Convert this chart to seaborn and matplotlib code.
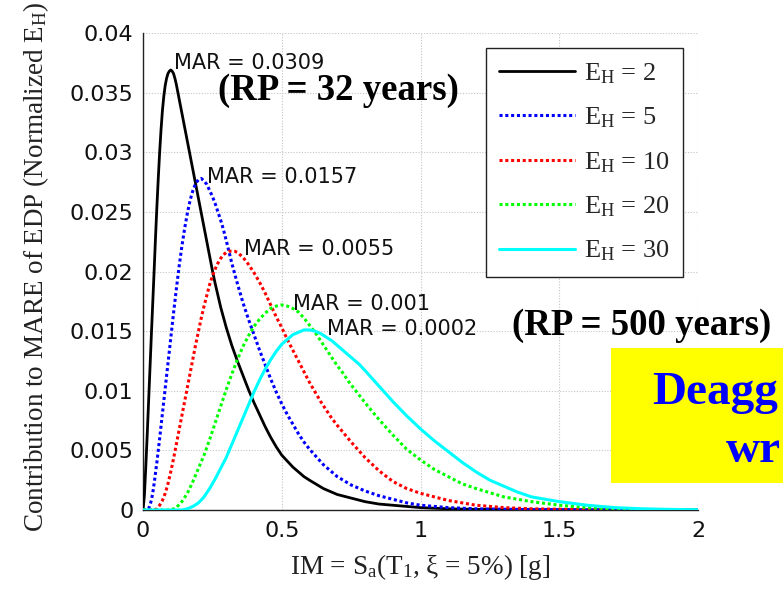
import matplotlib
matplotlib.use("Agg")
import matplotlib.pyplot as plt
import seaborn as sns
import pandas as pd
from matplotlib.patches import Rectangle

# IM values (g) and normalized contributions to MARE for each hazard exposure E_H
im_eh2 = [0, 0.005, 0.01, 0.015, 0.02, 0.025, 0.03, 0.035, 0.04, 0.045, 0.05, 0.055, 0.06,
          0.065, 0.07, 0.075, 0.08, 0.085, 0.09, 0.095, 0.10, 0.105, 0.11, 0.115, 0.12, 0.13,
          0.14, 0.15, 0.16, 0.17, 0.18, 0.19, 0.20, 0.21, 0.22, 0.23, 0.24, 0.25, 0.26, 0.28,
          0.30, 0.32, 0.34, 0.36, 0.38, 0.40, 0.42, 0.44, 0.46, 0.48, 0.50, 0.52, 0.54, 0.56,
          0.58, 0.60, 0.65, 0.70, 0.75, 0.80, 0.85, 0.90, 1.00, 1.10, 1.20, 1.40, 1.60, 2.00]
contrib_eh2 = [0, 0.0012, 0.0036, 0.0062, 0.0090, 0.0118, 0.0146, 0.0173, 0.0200, 0.0228,
               0.0254, 0.0278, 0.0300, 0.0319, 0.0335, 0.0347, 0.0356, 0.0362, 0.0366, 0.0368,
               0.0369, 0.0368, 0.0366, 0.0362, 0.0357, 0.0345, 0.0333, 0.0321, 0.0309, 0.0297,
               0.0285, 0.0273, 0.0261, 0.0249, 0.0237, 0.0225, 0.0213, 0.0201, 0.0190, 0.0170,
               0.0153, 0.0138, 0.0125, 0.0113, 0.0101, 0.0090, 0.0080, 0.0070, 0.0061, 0.0053,
               0.0046, 0.0041, 0.0036, 0.0032, 0.0028, 0.0025, 0.0018, 0.0013, 0.0010, 0.0007,
               0.0005, 0.0004, 0.0002, 0.0001, 0.00005, 0.00002, 0.00001, 0]

im_eh5 = [0, 0.015, 0.02, 0.025, 0.03, 0.035, 0.04, 0.05, 0.06, 0.07, 0.08, 0.09, 0.10, 0.11,
          0.12, 0.13, 0.14, 0.15, 0.16, 0.17, 0.18, 0.19, 0.20, 0.21, 0.22, 0.23, 0.24, 0.25,
          0.26, 0.27, 0.28, 0.29, 0.30, 0.32, 0.34, 0.36, 0.38, 0.40, 0.42, 0.44, 0.46, 0.48,
          0.50, 0.52, 0.54, 0.56, 0.58, 0.60, 0.65, 0.70, 0.75, 0.80, 0.85, 0.90, 0.95, 1.00,
          1.10, 1.20, 1.40, 1.60, 2.00]
contrib_eh5 = [0, 0, 0.0001, 0.0004, 0.0008, 0.0014, 0.0022, 0.0040, 0.0060, 0.0081, 0.0102,
               0.0123, 0.0144, 0.0165, 0.0185, 0.0204, 0.0221, 0.0236, 0.0249, 0.0260, 0.0268,
               0.0274, 0.0277, 0.0278, 0.0276, 0.0273, 0.0268, 0.0263, 0.0257, 0.0250, 0.0243,
               0.0235, 0.0226, 0.0207, 0.0190, 0.0174, 0.0160, 0.0147, 0.0134, 0.0122, 0.0110,
               0.0099, 0.0089, 0.0080, 0.0072, 0.0064, 0.0057, 0.0051, 0.0038, 0.0028, 0.0021,
               0.0016, 0.0012, 0.0009, 0.0006, 0.0004, 0.0002, 0.0001, 0.00003, 0.00001, 0]

im_eh10 = [0, 0.04, 0.05, 0.06, 0.07, 0.08, 0.09, 0.10, 0.11, 0.12, 0.13, 0.14, 0.15, 0.16,
           0.17, 0.18, 0.19, 0.20, 0.21, 0.22, 0.23, 0.24, 0.25, 0.26, 0.27, 0.28, 0.29, 0.30,
           0.31, 0.32, 0.33, 0.34, 0.36, 0.38, 0.40, 0.42, 0.44, 0.46, 0.48, 0.50, 0.52, 0.54,
           0.56, 0.58, 0.60, 0.62, 0.64, 0.66, 0.68, 0.70, 0.75, 0.80, 0.85, 0.90, 0.95, 1.00,
           1.05, 1.10, 1.20, 1.30, 1.40, 1.60, 2.00]
contrib_eh10 = [0, 0, 0.0001, 0.0004, 0.0008, 0.0014, 0.0022, 0.0032, 0.0043, 0.0055, 0.0067,
                0.0079, 0.0091, 0.0103, 0.0115, 0.0127, 0.0139, 0.0150, 0.0161, 0.0171, 0.0180,
                0.0189, 0.0196, 0.0202, 0.0207, 0.0211, 0.0214, 0.0216, 0.0217, 0.0217, 0.0217,
                0.0216, 0.0212, 0.0206, 0.0199, 0.0191, 0.0182, 0.0172, 0.0162, 0.0153, 0.0143,
                0.0134, 0.0125, 0.0116, 0.0107, 0.0099, 0.0091, 0.0084, 0.0077, 0.0071, 0.0057,
                0.0044, 0.0033, 0.0024, 0.0018, 0.0014, 0.0011, 0.0008, 0.0004, 0.0002, 0.0001,
                0.00003, 0]

im_eh20 = [0, 0.10, 0.12, 0.14, 0.16, 0.18, 0.20, 0.22, 0.24, 0.26, 0.28, 0.30, 0.32, 0.34,
           0.36, 0.38, 0.40, 0.42, 0.44, 0.46, 0.48, 0.50, 0.52, 0.54, 0.56, 0.58, 0.60, 0.62,
           0.64, 0.66, 0.68, 0.70, 0.72, 0.74, 0.76, 0.78, 0.80, 0.85, 0.90, 0.95, 1.00, 1.05,
           1.10, 1.15, 1.20, 1.30, 1.40, 1.50, 1.60, 1.70, 1.80, 2.00]
contrib_eh20 = [0, 0, 0.0002, 0.0007, 0.0014, 0.0024, 0.0035, 0.0046, 0.0059, 0.0073, 0.0087,
                0.0101, 0.0114, 0.0126, 0.0137, 0.0146, 0.0154, 0.0160, 0.0165, 0.0169, 0.0171,
                0.0172, 0.0171, 0.0169, 0.0166, 0.0161, 0.0155, 0.0149, 0.0142, 0.0135, 0.0128,
                0.0121, 0.0115, 0.0108, 0.0102, 0.0096, 0.0090, 0.0076, 0.0063, 0.0051, 0.0042,
                0.0034, 0.0028, 0.0022, 0.0018, 0.0011, 0.0007, 0.0004, 0.0002, 0.0001, 0.00005,
                0.00001]

im_eh30 = [0, 0.14, 0.16, 0.18, 0.20, 0.22, 0.24, 0.26, 0.28, 0.30, 0.32, 0.34, 0.36, 0.38,
           0.40, 0.42, 0.44, 0.46, 0.48, 0.50, 0.52, 0.54, 0.56, 0.58, 0.60, 0.62, 0.64, 0.66,
           0.68, 0.70, 0.72, 0.74, 0.76, 0.78, 0.80, 0.85, 0.90, 0.95, 1.00, 1.05, 1.10, 1.15,
           1.20, 1.25, 1.30, 1.35, 1.40, 1.50, 1.60, 1.70, 1.80, 1.90, 2.00]
contrib_eh30 = [0, 0, 0.0001, 0.0003, 0.0006, 0.0011, 0.0018, 0.0026, 0.0035, 0.0044, 0.0055,
                0.0066, 0.0077, 0.0088, 0.0099, 0.0109, 0.0118, 0.0126, 0.0133, 0.0139, 0.0143,
                0.0147, 0.0149, 0.0151, 0.0151, 0.0150, 0.0148, 0.0145, 0.0142, 0.0138, 0.0134,
                0.0130, 0.0126, 0.0122, 0.0117, 0.0104, 0.0091, 0.0079, 0.0068, 0.0058, 0.0049,
                0.0040, 0.0032, 0.0025, 0.0020, 0.0015, 0.0011, 0.0007, 0.0004, 0.0002, 0.0001,
                0.00005, 0.00002]

eh_levels = [2, 5, 10, 20, 30]
mar_labels = ["MAR = 0.0309", "MAR = 0.0157", "MAR = 0.0055", "MAR = 0.001", "MAR = 0.0002"]

x_ticks = [0, 0.5, 1, 1.5, 2]
x_tick_labels = ["0", "0.5", "1", "1.5", "2"]
y_ticks = [0, 0.005, 0.01, 0.015, 0.02, 0.025, 0.03, 0.035, 0.04]
y_tick_labels = ["0", "0.005", "0.01", "0.015", "0.02", "0.025", "0.03", "0.035", "0.04"]

series = [(im_eh2, contrib_eh2), (im_eh5, contrib_eh5), (im_eh10, contrib_eh10),
          (im_eh20, contrib_eh20), (im_eh30, contrib_eh30)]
frames = []
for eh, (xs, ys) in zip(eh_levels, series):
    frames.append(pd.DataFrame({"IM": xs, "contrib": ys, "EH": eh}))
df = pd.concat(frames, ignore_index=True)

sns.set_theme(style="white")
plt.rcParams["font.family"] = ["DejaVu Sans"]
plt.rcParams["mathtext.fontset"] = "custom"
plt.rcParams["mathtext.rm"] = "Liberation Serif"
plt.rcParams["mathtext.it"] = "Liberation Serif:italic"
plt.rcParams["mathtext.bf"] = "Liberation Serif:bold"
plt.rcParams["lines.solid_joinstyle"] = "round"

W, H = 783, 592
fig = plt.figure(figsize=(W / 100, H / 100), dpi=100)
ax = fig.add_axes([143 / W, 82 / H, 555 / W, 477 / H])

styles = {
    2: dict(color="#000000", linestyle="-", linewidth=2.0),
    5: dict(color="#0000ff", linestyle=(0, (1, 0.9)), linewidth=2.2),
    10: dict(color="#ff0000", linestyle=(0, (1, 0.9)), linewidth=2.2),
    20: dict(color="#00ff00", linestyle=(0, (1, 0.9)), linewidth=2.2),
    30: dict(color="#00ffff", linestyle="-", linewidth=2.2),
}
for eh in eh_levels:
    sub = df[df["EH"] == eh]
    sns.lineplot(data=sub, x="IM", y="contrib", ax=ax, sort=False,
                 label=r"E$_{\mathrm{H}}$ = %d" % eh, zorder=3, **styles[eh])

ax.set_xlim(0, 2)
ax.set_ylim(0, 0.04)
ax.set_xticks(x_ticks)
ax.set_xticklabels(x_tick_labels)
ax.set_yticks(y_ticks)
ax.set_yticklabels(y_tick_labels)
ax.tick_params(axis="both", direction="in", length=4, width=0.8, color="#333333",
               labelsize=16, labelcolor="#111111")
ax.tick_params(axis="x", pad=8)
ax.tick_params(axis="y", pad=7)
ax.grid(True, linestyle=(0, (1, 1.5)), linewidth=0.8, color="#c4c4c4")
ax.set_axisbelow(True)
for side in ("top", "right"):
    ax.spines[side].set_visible(False)
for side in ("left", "bottom"):
    ax.spines[side].set_color("#222222")
    ax.spines[side].set_linewidth(1.0)

serif = ["Liberation Serif", "DejaVu Serif"]
ax.set_xlabel(r"IM = S$_{\mathrm{a}}$(T$_{\mathrm{1}}$, ξ = 5%) [g]",
              fontsize=19.5, family=serif, color="#222222")
ax.xaxis.set_label_coords(0.5, -0.088)
ax.xaxis.label.set_va("top")
ax.set_ylabel(r"Contribution to MARE of EDP (Normalized E$_{\mathrm{H}}$)",
              fontsize=19.5, family=serif, color="#222222")
ax.yaxis.set_label_coords(-0.166, 0.51)

# Peak annotations with the mean annual rate of each curve
mar_pos = [(0.1117, 0.0370), (0.2306, 0.0274), (0.3640, 0.0214), (0.5416, 0.0168),
           (0.6616, 0.0147)]
for lbl, (tx, ty) in zip(mar_labels, mar_pos):
    ax.text(tx, ty, lbl, fontsize=15, ha="left", va="baseline", color="#111111", zorder=4)

leg = ax.legend(loc="upper left", bbox_to_anchor=(486 / W, 1 - 48 / H),
                bbox_transform=fig.transFigure, borderaxespad=0, frameon=True,
                fancybox=False, framealpha=1, edgecolor="#222222",
                prop={"family": serif, "size": 19}, handlelength=2.88,
                handletextpad=0.34, labelspacing=0.75, borderpad=0.5)
leg.get_frame().set_linewidth(1.0)
leg.set_zorder(5)

fig.text(218 / W, 1 - 100 / H, "(RP = 32 years)", fontsize=26.5, fontweight="bold",
         family=serif, ha="left", va="baseline", color="black")
fig.text(512 / W, 1 - 335 / H, "(RP = 500 years)", fontsize=26.5, fontweight="bold",
         family=serif, ha="left", va="baseline", color="black")

fig.patches.append(Rectangle((611 / W, 1 - 483 / H), 1.0, (483 - 348) / H,
                             transform=fig.transFigure, facecolor="#ffff00",
                             edgecolor="none", zorder=6))
fig.text(652 / W, 1 - 404 / H, "Deagg", fontsize=34, fontweight="bold",
         family=serif, ha="left", va="baseline", color="#0000ff", zorder=7)
fig.text(726 / W, 1 - 462 / H, "wr", fontsize=34, fontweight="bold",
         family=serif, ha="left", va="baseline", color="#0000ff", zorder=7)

fig.savefig("out.png", dpi=100)
